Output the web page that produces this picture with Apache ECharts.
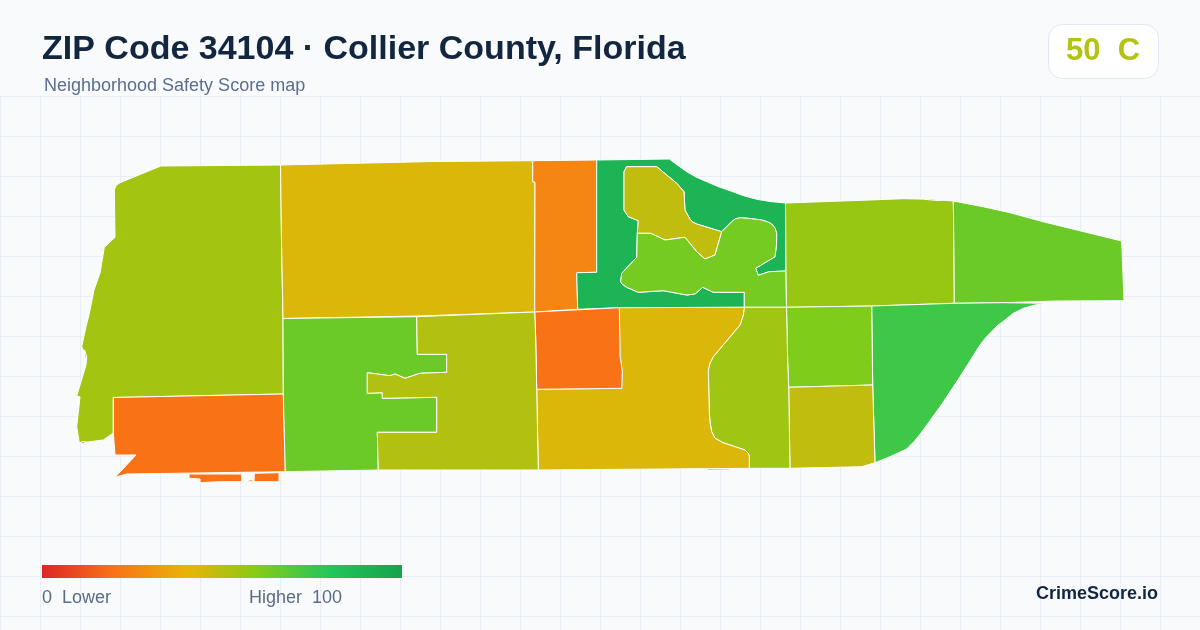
<!DOCTYPE html>
<html>
<head>
<meta charset="utf-8">
<style>html,body{margin:0;padding:0;background:#f8fafc}#c{width:1200px;height:630px}</style>
<script src="https://cdn.jsdelivr.net/npm/echarts@6/dist/echarts.min.js"></script>
</head>
<body>
<div id="c"></div>
<script>
// ---------- text ----------
const titleText = 'ZIP Code 34104 · Collier County, Florida';
const subtitleText = 'Neighborhood Safety Score map';
const badgeText = '50  C';
const legendLowText = '0  Lower';
const legendHighText = 'Higher  100';
const brandText = 'CrimeScore.io';

// ---------- scale ----------
const scaleColors = ['#dc2626','#f97316','#eab308','#84cc16','#22c55e','#16a34a'];

// ---------- neighbourhood names and scores ----------
const names  = ['West','Southwest','North','NorthMid','Preserve','PreserveIsle','PreserveLime','NorthEast','FarEast','SouthEast','MidEastUpper','MidEastLower','MidEastCol','SouthMid','CentreBlock','Central','CentralOlive'];
const scores = [54,20,43,26,90,48,63,56,65,74,61,48,55,43,20,65,51];

// ---------- boundaries (map units) ----------
const West = [[[160.7,166],[280.5,165],[281.5,240],[283,318.5],[283.3,394],[113.3,397.5],[113.3,433],[103.3,440],[90,441.7],[79.3,443],[76.7,426.7],[80,397],[76.7,396],[86,365],[86.7,356.7],[81.7,346.7],[86,326.7],[89,315],[94,290],[100,273],[104.3,247.3],[115,237.3],[114.3,190],[116,185.5],[120,182.7]]];
const Southwest = [[[113.3,397.5],[283.3,394],[285.3,471.7],[126.7,474],[115,477.3],[136,455],[115,455],[113.3,433]],
  [[189,474],[241.7,474],[241.7,481.7],[218.3,481.7],[200,482.7],[200,479],[189,478.3]],
  [[254.3,473.3],[279,472.7],[279,481.7],[254,481.7]],
  [[248.3,480],[253,480],[253,481.7],[248.3,481.7]],
  [[84.5,350],[86.7,356.7],[86,362],[85,356]],
  [[81,442],[85,441.5],[85,443],[81.5,444]]];
const North = [[[280.5,165],[434,161.5],[532.7,160.7],[532.7,181.7],[535,182.3],[534.7,312],[418,316],[283,318.5],[281.5,240]]];
const NorthMid = [[[532.7,160.7],[596.7,160],[596.7,272.3],[576.7,272.7],[577.7,309.3],[534.7,312],[535,182.3],[532.7,181.7]]];
const Preserve = [[[596.7,160],[669.3,159],[678,165.5],[686.7,171.7],[696,177],[706.7,181.7],[718,186.5],[730,190.7],[743,195.5],[756.7,199.3],[770,201.5],[785.5,203],[786,271],[769,271.7],[758.3,275.3],[755.7,268.3],[775,256.7],[776.5,245],[776.7,233.3],[775,228],[771.7,224],[768,222],[761.7,220],[750,218.5],[740,217.7],[735,219],[731.7,221.7],[721.7,231.7],[696.7,224],[692.5,222],[690,219.3],[685,210],[684,191.7],[676.7,183.3],[656.7,166.7],[626.7,166.7],[624,171.7],[624,210],[628.3,216.7],[638.3,220.7],[637.3,233.3],[636.7,257.3],[621.7,273.3],[620.7,281.7],[622.5,284.5],[626.7,287.3],[638.3,292.3],[663.3,290.7],[686.7,295],[695,294],[702.7,287.3],[713.3,292.3],[744.3,292.3],[744.3,307.3],[619.3,307.7],[577.7,309.3],[576.7,272.7],[596.7,272.3]],
  [[707,468.6],[730,468.3],[730,469.8],[707,470]]];
const PreserveIsle = [[[626.7,166.7],[656.7,166.7],[676.7,183.3],[684,191.7],[685,210],[690,219.3],[692.5,222],[696.7,224],[721.7,231.7],[715,255],[705,259],[696.7,251.7],[685,237.3],[665,240],[650.7,233.3],[637.3,233.3],[638.3,220.7],[628.3,216.7],[624,210],[624,171.7]]];
const PreserveLime = [[[637.3,233.3],[650.7,233.3],[665,240],[685,237.3],[696.7,251.7],[705,259],[715,255],[721.7,231.7],[731.7,221.7],[735,219],[740,217.7],[750,218.5],[761.7,220],[768,222],[771.7,224],[775,228],[776.7,233.3],[776.5,245],[775,256.7],[755.7,268.3],[758.3,275.3],[769,271.7],[786,271],[786.5,307.3],[744.3,307.3],[744.3,292.3],[713.3,292.3],[702.7,287.3],[695,294],[686.7,295],[663.3,290.7],[638.3,292.3],[626.7,287.3],[622.5,284.5],[620.7,281.7],[621.7,273.3],[636.7,257.3]]];
const NorthEast = [[[785.5,203],[870,200],[903,198.7],[933,199.3],[953.3,201],[954,251.7],[954.3,303.3],[871.7,306],[786.5,307.3],[786,271]]];
const FarEast = [[[953.3,201],[983,206.7],[1010,212.7],[1043,221.7],[1121.7,241],[1123.3,283.3],[1124,300.7],[1056.7,301],[1003,302.7],[954.3,303.3],[954,251.7]],
  [[925,198.4],[943,200],[938,200.6],[925,199.4]]];
const SouthEast = [[[871.7,306],[954.3,303.3],[1003,302.7],[1046.7,303.3],[1035,305],[1023.3,308.3],[1013,313.5],[1005,320],[997,326],[990,333.3],[985,338.5],[980,345],[970,361],[960,376.7],[942,404],[923.3,430],[915.5,440],[906.7,449],[898,453],[890,456.7],[882,460],[875,462.7],[872.7,385]]];
const MidEastUpper = [[[786.5,307.3],[871.7,306],[872.7,385],[788.7,387.3],[787.7,361.7]]];
const MidEastLower = [[[788.7,387.3],[872.7,385],[875,462.7],[861.7,466.7],[790,468.3]]];
const MidEastCol = [[[744.3,307.3],[786.5,307.3],[787.7,361.7],[788.7,387.3],[790,468.3],[749.3,468.3],[749.3,455.7],[748,453],[745,450],[723,442.7],[715,438.3],[711.7,431.7],[710,422],[709.3,411.7],[708.3,370],[710,363],[713.3,356.7],[740,325],[743.3,315]]];
const SouthMid = [[[619.3,307.7],[744.3,307.3],[743.3,315],[740,325],[713.3,356.7],[710,363],[708.3,370],[709.3,411.7],[710,422],[711.7,431.7],[715,438.3],[723,442.7],[745,450],[748,453],[749.3,455.7],[749.3,468.3],[538.3,470],[536.7,389.3],[621.7,388.3],[622.3,371.7],[620,355]]];
const CentreBlock = [[[534.7,312],[619.3,307.7],[620,355],[622.3,371.7],[621.7,388.3],[536.7,389.3],[535.7,338]]];
const Central = [[[283,318.5],[416.7,316.7],[417.3,354.3],[446.7,354.3],[446.7,372.3],[420,373.3],[405,378.3],[395,374],[390,375.7],[367.3,372.7],[367.3,393.3],[382.3,392.7],[382.3,398.3],[436.7,397.3],[436.7,432.3],[377.3,432.3],[378.3,470],[285.3,471.7],[283.3,394]]];
const CentralOlive = [[[416.7,316.7],[534.7,312],[535.7,338],[536.7,389.3],[538.3,470],[378.3,470],[377.3,432.3],[436.7,432.3],[436.7,397.3],[382.3,398.3],[382.3,392.7],[367.3,393.3],[367.3,372.7],[390,375.7],[395,374],[405,378.3],[420,373.3],[446.7,372.3],[446.7,354.3],[417.3,354.3]]];
const shapes = [West,Southwest,North,NorthMid,Preserve,PreserveIsle,PreserveLime,NorthEast,FarEast,SouthEast,MidEastUpper,MidEastLower,MidEastCol,SouthMid,CentreBlock,Central,CentralOlive];

// ---------- build map ----------
const geo = {type:'FeatureCollection',features:shapes.map((parts,i)=>({
  type:'Feature',properties:{name:names[i]},
  geometry:{type:'MultiPolygon',coordinates:parts.map(r=>{const ring=r.map(p=>[p[0],-p[1]]);ring.push(ring[0].slice());return [ring];})}
}))};
echarts.registerMap('zip34104',geo);

// ---------- background grid ----------
const gridColor='#e8eef5';
const gridEls=[];
for(let x=0;x<=1200;x+=40)gridEls.push({type:'line',silent:true,z:-10,shape:{x1:x+.5,y1:97,x2:x+.5,y2:630},style:{stroke:gridColor,lineWidth:1}});
for(let y=96.5;y<=630;y+=40)gridEls.push({type:'line',silent:true,z:-10,shape:{x1:0,y1:y,x2:1200,y2:y},style:{stroke:gridColor,lineWidth:1}});

const F='"Liberation Sans",Arial,sans-serif';
function txt(x,y,text,size,color,weight,align){
  return {type:'text',silent:true,z:10,x:x,y:y,style:{text:text,fontFamily:F,fontSize:size,fontWeight:weight||'normal',fill:color,align:align||'left',verticalAlign:'top'}};
}

const chart=echarts.init(document.getElementById('c'),null,{renderer:'canvas',width:1200,height:630});
chart.setOption({
  animation:false,
  backgroundColor:'#f8fafc',
  visualMap:{show:false,type:'continuous',min:0,max:100,seriesIndex:0,inRange:{color:scaleColors}},
  series:[{type:'map',map:'zip34104',aspectScale:1,boundingCoords:[[0,0],[1200,-630]],left:0,top:0,width:1200,height:630,roam:false,silent:true,selectedMode:false,
    label:{show:false},emphasis:{disabled:true},
    itemStyle:{borderColor:'#ffffff',borderWidth:1},
    data:names.map((n,i)=>({name:n,value:scores[i]}))}],
  graphic:{elements:[...gridEls,
    txt(42,33,titleText,34,'#12263f','bold'),
    txt(44,77,subtitleText,18,'#5a6f8f'),
    {type:'rect',silent:true,z:9,shape:{x:1048.5,y:24.5,width:110,height:54,r:14},style:{fill:'#ffffff',stroke:'#e2e8f0',lineWidth:1}},
    txt(1103,36,badgeText,31,'#b3c312','bold','center'),
    {type:'rect',silent:true,z:9,shape:{x:42,y:565,width:360,height:13},style:{fill:new echarts.graphic.LinearGradient(0,0,1,0,scaleColors.map((c,i)=>({offset:i/(scaleColors.length-1),color:c})))}},
    txt(42,589,legendLowText,18,'#5a6b85'),
    txt(249,589,legendHighText,18,'#5a6b85'),
    txt(1158,585,brandText,18,'#12263f','bold','right')
  ]}
});
</script>
</body>
</html>
